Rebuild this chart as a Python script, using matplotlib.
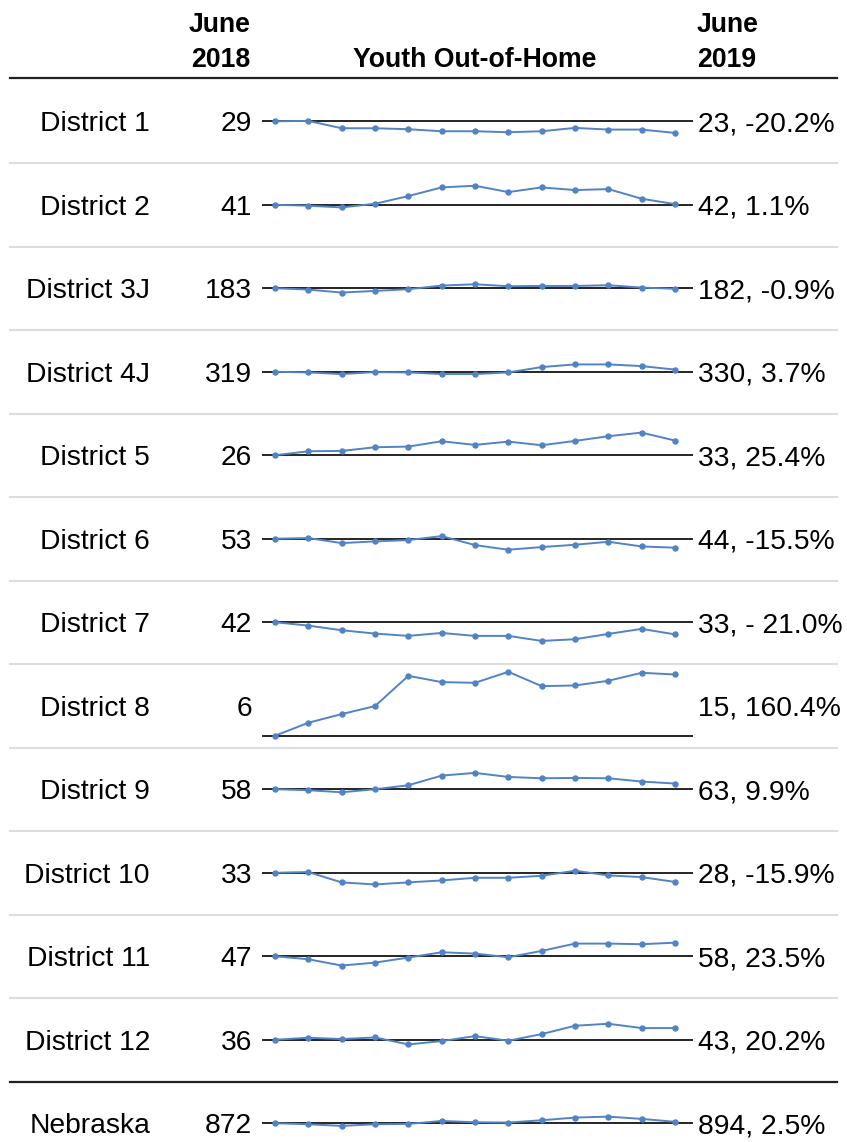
import matplotlib.pyplot as plt

plt.rcParams["font.family"] = ["Liberation Sans", "DejaVu Sans"]

districts = ["District 1", "District 2", "District 3J", "District 4J", "District 5",
             "District 6", "District 7", "District 8", "District 9", "District 10",
             "District 11", "District 12", "Nebraska"]
june_2018 = [29, 41, 183, 319, 26, 53, 42, 6, 58, 33, 47, 36, 872]
june_2019 = [23, 42, 182, 330, 33, 44, 33, 15, 63, 28, 58, 43, 894]
change_text = ["-20.2%", "1.1%", "-0.9%", "3.7%", "25.4%", "-15.5%", "- 21.0%",
               "160.4%", "9.9%", "-15.9%", "23.5%", "20.2%", "2.5%"]

# monthly % change vs June 2018, Jun 2018 .. Jun 2019
d1 = [0, 0.6, -12.1, -12.1, -13.8, -17.3, -17.3, -19.0, -17.3, -11.5, -14.4, -14.4, -20.2]
d2 = [0, -1.7, -4.6, 1.7, 15.0, 30.0, 32.9, 21.9, 30.0, 25.4, 27.1, 10.4, 1.1]
d3j = [0, -2.3, -7.5, -4.6, -1.7, 4.6, 6.9, 3.5, 4.0, 4.0, 5.2, 1.2, -0.9]
d4j = [0, -1.2, -4.0, -0.6, -1.2, -4.0, -4.0, -1.2, 8.1, 12.7, 12.7, 9.8, 3.7]
d5 = [0, 6.9, 7.5, 13.8, 15.0, 24.2, 17.9, 23.6, 17.3, 24.8, 32.9, 39.2, 25.4]
d6 = [0, 1.2, -7.5, -4.6, -2.3, 4.6, -11.0, -19.0, -14.4, -10.4, -5.2, -13.3, -15.5]
d7 = [0, -5.8, -13.8, -19.6, -23.6, -18.5, -23.6, -23.6, -32.3, -29.4, -20.2, -11.5, -21.0]
d8 = [0, 34.0, 56.7, 77.6, 156.9, 140.4, 138.6, 167.4, 129.9, 131.6, 143.9, 164.8, 160.4]
d9 = [0, -1.7, -5.2, 0, 6.9, 23.6, 28.3, 21.3, 19.0, 19.6, 19.0, 13.3, 9.9]
d10 = [0, 1.2, -16.7, -20.2, -16.7, -13.3, -8.7, -8.7, -5.2, 3.5, -4.6, -7.5, -15.9]
d11 = [0, -5.2, -16.1, -11.0, -2.3, 6.9, 4.6, -1.7, 9.2, 21.9, 21.9, 20.8, 23.5]
d12 = [0, 3.5, 1.2, 4.0, -8.1, -2.3, 6.3, -1.7, 9.8, 24.2, 27.7, 20.2, 20.2]
neb = [0, -1.7, -4.6, -1.7, -1.2, 4.0, 1.7, 1.2, 5.2, 9.8, 11.5, 7.5, 2.5]
trends = [d1, d2, d3j, d4j, d5, d6, d7, d8, d9, d10, d11, d12, neb]

W, H = 847, 1142
fig = plt.figure(figsize=(W / 100, H / 100), dpi=100)
bg = fig.add_axes([0, 0, 1, 1])
bg.set_xlim(0, W)
bg.set_ylim(H, 0)
bg.axis("off")

fs = 20.3
hfs = 19.2
blue = "#5283c4"
row_h = 83.5
top = 79.5

# header
bg.text(250, 32, "June", ha="right", va="baseline", fontsize=hfs, fontweight="bold")
bg.text(250, 67, "2018", ha="right", va="baseline", fontsize=hfs, fontweight="bold")
bg.text(475, 67, "Youth Out-of-Home", ha="center", va="baseline", fontsize=hfs, fontweight="bold")
bg.text(697, 32, "June", ha="left", va="baseline", fontsize=hfs, fontweight="bold")
bg.text(697, 67, "2019", ha="left", va="baseline", fontsize=hfs, fontweight="bold")
bg.plot([10, 837], [78, 78], color="#222222", lw=1.6)

px_per_pct = 0.578
for i, name in enumerate(districts):
    y0 = top + i * row_h
    yc = y0 + row_h / 2
    # separators
    if i < len(districts) - 2:
        bg.plot([10, 837], [y0 + row_h, y0 + row_h], color="#dddddd", lw=1.5)
    elif i == len(districts) - 2:
        bg.plot([10, 837], [y0 + row_h, y0 + row_h], color="#222222", lw=1.6)

    bg.text(150, yc + 10, name, ha="right", va="baseline", fontsize=fs)
    bg.text(252, yc + 10, str(june_2018[i]), ha="right", va="baseline", fontsize=fs)
    bg.text(698, yc + 10, f"{june_2019[i]}, {change_text[i]}", ha="left",
            va="baseline", fontsize=fs)

    # sparkline axes
    ax = fig.add_axes([262 / W, 1 - (y0 + row_h) / H, 431 / W, row_h / H])
    ax.axis("off")
    vals = trends[i]
    if name == "District 8":
        base_off = 11.75  # baseline near the bottom of the cell
        k = 0.382
    else:
        base_off = row_h / 2
        k = px_per_pct
    ax.set_ylim(-base_off / k, (row_h - base_off) / k)
    ax.set_xlim(-0.39, 12.54)
    ax.axhline(0, color="black", lw=1.2, zorder=1)
    ax.plot(range(len(vals)), vals, color=blue, lw=1.4, marker="o", ms=3.6,
            zorder=2)

fig.savefig("out.png", dpi=100)
